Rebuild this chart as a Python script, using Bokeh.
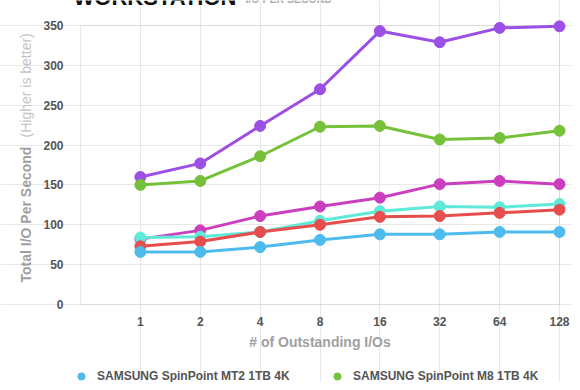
import math
from bokeh.plotting import figure
from bokeh.models import (FixedTicker, Grid, Label, Legend, LegendItem,
                          ColumnDataSource, BoxAnnotation)
from bokeh.core.properties import value
from bokeh.embed import file_html
from bokeh.resources import INLINE

# ---- data ----
outstanding = ["1", "2", "4", "8", "16", "32", "64", "128"]
series_names = [
    "Drive A",
    "SAMSUNG SpinPoint M8 1TB 4K",
    "Drive C",
    "Drive D",
    "Drive E",
    "SAMSUNG SpinPoint MT2 1TB 4K",
]
purple_vals = [160, 177, 224, 270, 343, 329, 347, 349]
green_vals = [150, 155, 186, 223, 224, 207, 209, 218]
magenta_vals = [82, 93, 111, 123, 134, 151, 155, 151]
cyan_vals = [84, 85, 91, 105, 117, 123, 122, 126]
red_vals = [73, 79, 91, 100, 110, 111, 115, 119]
blue_vals = [66, 66, 72, 81, 88, 88, 91, 91]
y_ticks = [0, 50, 100, 150, 200, 250, 300, 350]
y_tick_labels = ["0", "50", "100", "150", "200", "250", "300", "350"]

colors = ["#9c4fe5", "#76c13a", "#cb3fbf", "#5fe9d9", "#e84d4d", "#4dbbeb"]
all_vals = [purple_vals, green_vals, magenta_vals, cyan_vals, red_vals, blue_vals]

xpos = list(range(1, len(outstanding) + 1))
X_MAX = len(outstanding)
Y_MAX = 350

FONT = "Liberation Sans"

# ---- layout (canvas pixels) ----
W, H = 572, 382
L, R, T, B = 80, 559, 25, 304          # plot box edges
ppx = (R - L) / X_MAX
ppy = (B - T) / Y_MAX
x_range = (0 - L / ppx, X_MAX + (W - R) / ppx)
y_range = (0 - (H - B) / ppy, Y_MAX + T / ppy)

p = figure(width=W, height=H, output_backend="svg", toolbar_location=None,
           x_range=x_range, y_range=y_range,
           x_axis_type=None, y_axis_type=None,
           min_border=0, min_border_left=0, min_border_right=0,
           min_border_top=0, min_border_bottom=0)
p.outline_line_color = None
p.background_fill_color = "white"
p.border_fill_color = "white"

# grid and plot box
p.add_layout(Grid(dimension=0, ticker=FixedTicker(ticks=xpos), bounds=(0, Y_MAX),
                  grid_line_color="#e8e8e8"))
p.add_layout(Grid(dimension=1, ticker=FixedTicker(ticks=y_ticks), bounds=(0, X_MAX),
                  grid_line_color="#e8e8e8"))
p.add_layout(BoxAnnotation(left=0, right=X_MAX, bottom=0, top=Y_MAX, fill_alpha=0,
                           line_color="#b8b8b8", line_width=1, level="underlay"))

# tick labels
p.text(x=xpos, y=[0] * len(xpos), text=outstanding, y_offset=17,
       text_align="center", text_baseline="middle", text_font=value(FONT),
       text_font_size="12px", text_font_style="bold", text_color="#555555")
p.text(x=[0] * len(y_ticks), y=y_ticks, text=y_tick_labels, x_offset=-17,
       text_align="right", text_baseline="middle", text_font=value(FONT),
       text_font_size="12px", text_font_style="bold", text_color="#555555")

# series
dots = {}
for name, col, vals in zip(series_names, colors, all_vals):
    src = ColumnDataSource(dict(x=xpos, y=vals))
    p.line("x", "y", source=src, line_color=col, line_width=3)
    dots[name] = p.scatter("x", "y", source=src, size=11, fill_color=col, line_color=col)

# axis titles
p.add_layout(Label(x=(L + R) / 2, y=H - 341, x_units="screen", y_units="screen",
                   text="# of Outstanding I/Os", text_font=FONT, text_font_size="14px",
                   text_font_style="bold", text_color="#a0a0a0",
                   text_align="center", text_baseline="middle"))
p.add_layout(Label(x=25, y=H - 282, x_units="screen", y_units="screen", angle=math.pi / 2,
                   text="Total I/O Per Second", text_font=FONT, text_font_size="14px",
                   text_font_style="bold", text_color="#a0a0a0",
                   text_align="left", text_baseline="middle"))
p.add_layout(Label(x=25, y=H - 137, x_units="screen", y_units="screen", angle=math.pi / 2,
                   text="(Higher is better)", text_font=FONT, text_font_size="14px",
                   text_color="#c4c4c4", text_align="left", text_baseline="middle"))

# title (top partly outside the window, as in the reference)
p.add_layout(Label(x=73, y=H + 3, x_units="screen", y_units="screen",
                   text="WORKSTATION", text_font=FONT, text_font_size="22px",
                   text_font_style="bold", text_color="#111111",
                   text_align="left", text_baseline="alphabetic"))
p.add_layout(Label(x=245, y=H + 2, x_units="screen", y_units="screen",
                   text="I/O PER SECOND", text_font=FONT, text_font_size="10.5px",
                   text_font_style="bold", text_color="#aaaaaa",
                   text_align="left", text_baseline="alphabetic"))

# legend (the visible row)
for name, lx in ((series_names[5], 72), (series_names[1], 328)):
    lg = Legend(items=[LegendItem(label=name, renderers=[dots[name]])], location=(lx, -3))
    lg.border_line_color = None
    lg.background_fill_alpha = 0
    lg.label_text_font = FONT
    lg.label_text_font_size = "12px"
    lg.label_text_font_style = "bold"
    lg.label_text_color = "#555555"
    lg.glyph_width = 18
    lg.glyph_height = 18
    lg.label_height = 14
    lg.label_standoff = 7
    lg.padding = 0
    lg.margin = 0
    p.add_layout(lg)

open("out.html", "w").write(file_html(p, INLINE))
